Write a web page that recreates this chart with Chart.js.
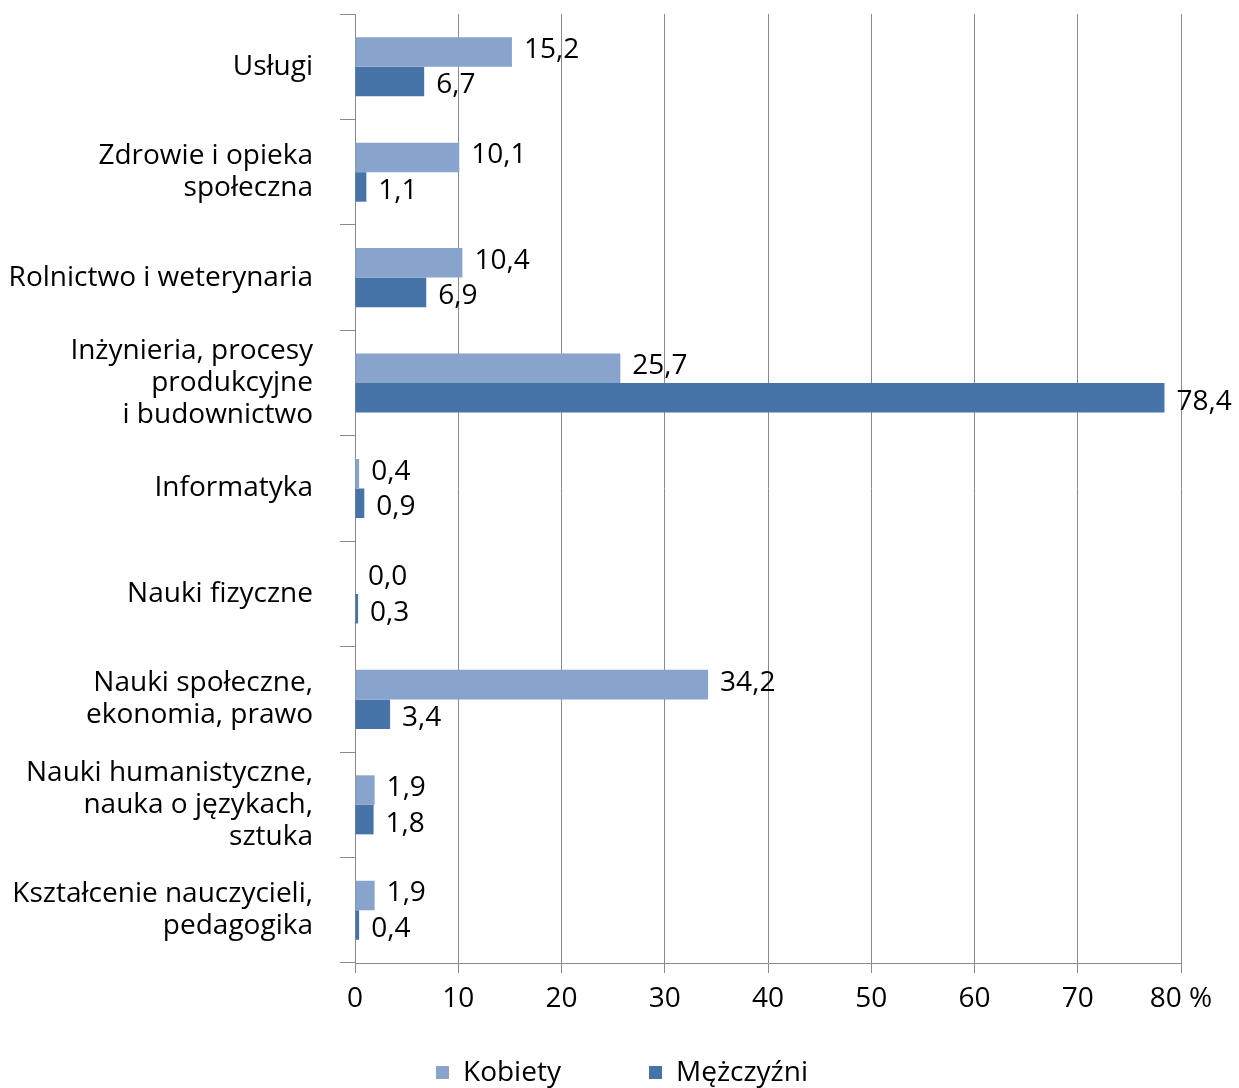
<!DOCTYPE html>
<html>
<head>
<meta charset="utf-8">
<script src="https://cdn.jsdelivr.net/npm/chart.js@4"></script>
<style>
  html, body { margin: 0; padding: 0; background: #fff; }
  #wrap { width: 1239px; height: 1088px; position: relative; }
</style>
</head>
<body>
<div id="wrap"><canvas id="c" width="1239" height="1088"></canvas></div>
<script>
const categories = [
  'Usługi',
  ['Zdrowie i opieka', 'społeczna'],
  'Rolnictwo i weterynaria',
  ['Inżynieria, procesy', 'produkcyjne', 'i budownictwo'],
  'Informatyka',
  'Nauki fizyczne',
  ['Nauki społeczne,', 'ekonomia, prawo'],
  ['Nauki humanistyczne,', 'nauka o językach,', 'sztuka'],
  ['Kształcenie nauczycieli,', 'pedagogika']
];
const seriesNames = ['Kobiety', 'Mężczyźni'];
const kobiety = [15.2, 10.1, 10.4, 25.7, 0.4, 0.0, 34.2, 1.9, 1.9];
const mezczyzni = [6.7, 1.1, 6.9, 78.4, 0.9, 0.3, 3.4, 1.8, 0.4];
const xTickValues = [0, 10, 20, 30, 40, 50, 60, 70, 80];
const xTickLabels = ['0', '10', '20', '30', '40', '50', '60', '70', '80 %'];

const FONT = '"Open Sans", Lato, sans-serif';
const FSIZE = 28;
const colors = ['#88A4CC', '#4674A8'];
const gridColor = '#8A8A8A';

const valueLabels = {
  id: 'valueLabels',
  afterDatasetsDraw(chart) {
    const ctx = chart.ctx;
    ctx.save();
    ctx.font = FSIZE + 'px ' + FONT;
    ctx.fillStyle = '#000';
    ctx.textAlign = 'left';
    ctx.textBaseline = 'middle';
    chart.data.datasets.forEach((ds, di) => {
      const meta = chart.getDatasetMeta(di);
      meta.data.forEach((el, i) => {
        const v = ds.data[i];
        const txt = v.toFixed(1).replace('.', ',');
        const dy = di === 0 ? -2 : 4;
        ctx.fillText(txt, el.x + 12, el.y + dy);
      });
    });
    ctx.restore();
  }
};

const customLegend = {
  id: 'customLegend',
  afterDraw(chart) {
    const ctx = chart.ctx;
    ctx.save();
    ctx.font = FSIZE + 'px ' + FONT;
    ctx.textBaseline = 'middle';
    ctx.textAlign = 'left';
    const y = 1073;
    const starts = [436, 649];
    chart.data.datasets.forEach((ds, i) => {
      const x = starts[i];
      ctx.fillStyle = ds.backgroundColor;
      ctx.fillRect(x, y - 7, 13, 13);
      ctx.fillStyle = '#000';
      ctx.fillText(ds.label, x + 27, y);
    });
    ctx.restore();
  }
};

new Chart(document.getElementById('c'), {
  type: 'bar',
  data: {
    labels: categories,
    datasets: [
      { label: seriesNames[0], data: kobiety, backgroundColor: colors[0], borderWidth: 0, minBarLength: 1 },
      { label: seriesNames[1], data: mezczyzni, backgroundColor: colors[1], borderWidth: 0, minBarLength: 1 }
    ]
  },
  options: {
    indexAxis: 'y',
    responsive: false,
    animation: false,
    devicePixelRatio: 1,
    layout: { padding: { top: 14, right: 58, bottom: 0, left: 0 } },
    datasets: { bar: { categoryPercentage: 0.56, barPercentage: 1.0 } },
    plugins: {
      legend: { display: false },
      tooltip: { enabled: false }
    },
    scales: {
      x: {
        min: 0, max: 80,
        afterBuildTicks(scale) { scale.ticks = xTickValues.map(v => ({ value: v })); },
        afterFit(scale) { scale.height = 125; scale.paddingLeft = 0; scale.paddingRight = 0; },
        grid: { color: gridColor, lineWidth: 1, tickLength: 10 },
        border: { color: gridColor },
        ticks: {
          color: '#000',
          font: { family: FONT, size: FSIZE },
          padding: 9,
          maxRotation: 0,
          callback(value, index) { return xTickLabels[index]; }
        }
      },
      y: {
        afterFit(scale) { scale.width = 355; scale.paddingTop = 0; scale.paddingBottom = 0; },
        grid: { offset: true, drawOnChartArea: false, color: gridColor, tickLength: 15 },
        border: { color: gridColor },
        ticks: {
          color: '#000',
          font: { family: FONT, size: FSIZE, lineHeight: 1.14 },
          padding: 27
        }
      }
    }
  },
  plugins: [valueLabels, customLegend]
});
</script>
</body>
</html>
